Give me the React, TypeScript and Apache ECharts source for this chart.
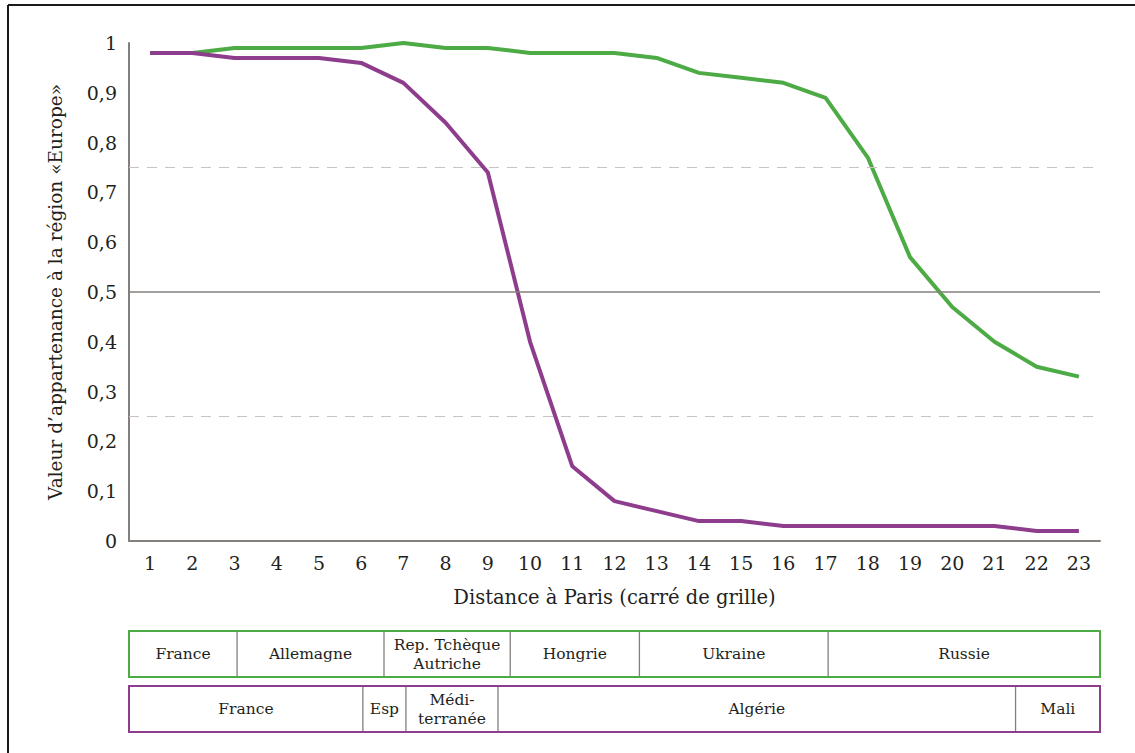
import React, { useEffect, useRef } from "react";
import * as echarts from "echarts";

const categories = ["1","2","3","4","5","6","7","8","9","10","11","12","13","14","15","16","17","18","19","20","21","22","23"];
const greenValues = [0.98,0.98,0.99,0.99,0.99,0.99,1.0,0.99,0.99,0.98,0.98,0.98,0.97,0.94,0.93,0.92,0.89,0.77,0.57,0.47,0.40,0.35,0.33];
const purpleValues = [0.98,0.98,0.97,0.97,0.97,0.96,0.92,0.84,0.74,0.40,0.15,0.08,0.06,0.04,0.04,0.03,0.03,0.03,0.03,0.03,0.03,0.02,0.02];
const referenceLines = [0.75, 0.5, 0.25];
// Segments: [label, start, end] in category units (0 = left edge of axis, 23 = right edge)
const greenSegments: [string, number, number][] = [
  ["France", 0, 2.56],
  ["Allemagne", 2.56, 6.04],
  ["Rep. Tchèque\nAutriche", 6.04, 9.03],
  ["Hongrie", 9.03, 12.09],
  ["Ukraine", 12.09, 16.56],
  ["Russie", 16.56, 23],
];
const purpleSegments: [string, number, number][] = [
  ["France", 0, 5.54],
  ["Esp", 5.54, 6.56],
  ["Médi-\nterranée", 6.56, 8.74],
  ["Algérie", 8.74, 21.0],
  ["Mali", 21.0, 23],
];

const GREEN = "#4dab45";
const PURPLE = "#8e3d8d";
const AXIS = "#857f7c";
const TEXT = "#231f20";
const FONT = "DejaVu Serif";

export default function App() {
  const ref = useRef<HTMLDivElement>(null);
  useEffect(() => {
    document.body.style.margin = "0";
    const chart = echarts.init(ref.current!, null, { renderer: "svg" });
    const W = 1135, H = 753;
    const gLeft = 129, gRight = 1100, gTop = 43, gBottom = 541;
    const unit = (gRight - gLeft) / categories.length;

    const table = (segs: [string, number, number][], y: number, h: number, color: string) => {
      const els: any[] = [];
      segs.forEach(([label, s, e], i) => {
        const x0 = gLeft + s * unit;
        const x1 = gLeft + e * unit;
        if (i > 0) {
          els.push({ type: "line", shape: { x1: x0, y1: y, x2: x0, y2: y + h }, style: { stroke: AXIS, lineWidth: 1.3 } });
        }
        els.push({
          type: "text",
          x: (x0 + x1) / 2,
          y: y + h / 2,
          style: { text: label, fill: TEXT, fontSize: 15.5, fontFamily: FONT, align: "center", verticalAlign: "middle", lineHeight: 19 },
        });
      });
      els.push({ type: "rect", shape: { x: gLeft, y, width: gRight - gLeft, height: h }, style: { fill: "none", stroke: color, lineWidth: 2 } });
      return els;
    };

    chart.setOption({
      animation: false,
      backgroundColor: "#ffffff",
      textStyle: { fontFamily: FONT },
      grid: { left: gLeft, right: W - gRight, top: gTop, bottom: H - gBottom, containLabel: false },
      xAxis: {
        type: "category",
        data: categories,
        boundaryGap: true,
        axisLine: { lineStyle: { color: AXIS, width: 2 } },
        axisTick: { show: false },
        axisLabel: { color: TEXT, fontSize: 19, fontFamily: FONT, margin: 12 },
        name: "Distance à Paris (carré de grille)",
        nameLocation: "middle",
        nameGap: 46,
        nameTextStyle: { color: TEXT, fontSize: 19.5, fontFamily: FONT },
      },
      yAxis: {
        type: "value",
        min: 0,
        max: 1,
        interval: 0.1,
        axisLine: { show: true, lineStyle: { color: AXIS, width: 2 } },
        axisTick: { show: false },
        splitLine: { show: false },
        axisLabel: {
          color: TEXT, fontSize: 19, fontFamily: FONT, margin: 12,
          formatter: (v: number) => (v === 0 ? "0" : v === 1 ? "1" : String(Math.round(v * 10) / 10).replace(".", ",")),
        },
        name: "Valeur d’appartenance à la région «Europe»",
        nameLocation: "middle",
        nameGap: 64,
        nameRotate: 90,
        nameTextStyle: { color: TEXT, fontSize: 18.5, fontFamily: FONT },
      },
      series: [
        {
          type: "line",
          data: greenValues,
          symbol: "none",
          lineStyle: { color: GREEN, width: 4 },
          z: 3,
          markLine: {
            silent: true,
            symbol: "none",
            label: { show: false },
            data: referenceLines.map((v) => ({
              yAxis: v,
              lineStyle: v === 0.5
                ? { color: AXIS, type: "solid", width: 1.5 }
                : { color: "#c9c3c3", type: [10, 8], width: 1.2 },
            })),
          },
        },
        {
          type: "line",
          data: purpleValues,
          symbol: "none",
          lineStyle: { color: PURPLE, width: 4 },
          z: 4,
        },
      ],
      graphic: [
        { type: "line", shape: { x1: 8, y1: 5, x2: W, y2: 5 }, style: { stroke: "#1a1a1a", lineWidth: 2 } },
        { type: "line", shape: { x1: 8, y1: 5, x2: 8, y2: H }, style: { stroke: "#1a1a1a", lineWidth: 2 } },
        ...table(greenSegments, 631, 46, GREEN),
        ...table(purpleSegments, 686, 46, PURPLE),
      ],
    });
    return () => chart.dispose();
  }, []);
  return <div ref={ref} style={{ width: 1135, height: 753 }} />;
}
